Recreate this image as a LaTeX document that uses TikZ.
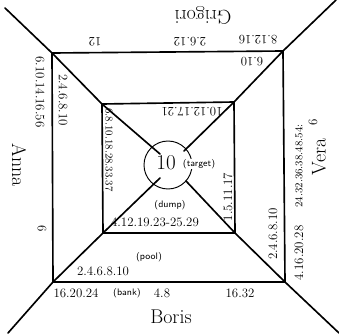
\documentclass[tikz,border=0pt]{standalone}
\usepackage{tikz}
\usetikzlibrary{positioning}

\begin{document}
\begin{tikzpicture}[
  x=0.03cm, y=-0.03cm,
  every node/.style={inner sep=1pt},
  edge/.style={line width=1.4pt, line cap=round, line join=round},
  num/.style={font=\fontsize{11}{13}\selectfont},
  small num/.style={font=\fontsize{9}{11}\selectfont},
  who/.style={font=\fontsize{17}{20}\selectfont},
  tag/.style={font=\sffamily\fontsize{8}{10}\selectfont},
  big/.style={font=\fontsize{18}{20}\selectfont}
]
  \useasboundingbox (0,0) rectangle (339,333);

  % ---- corners: outer square, inner square, far ends ----
  \coordinate (otl) at (52,53);   \coordinate (otr) at (283,51);
  \coordinate (obr) at (285,282); \coordinate (obl) at (53,282);
  \coordinate (itl) at (102,104); \coordinate (itr) at (234,102);
  \coordinate (ibr) at (235,233); \coordinate (ibl) at (103,233);
  \coordinate (etl) at (5,8);     \coordinate (etr) at (336,0);
  \coordinate (ebr) at (339,333); \coordinate (ebl) at (8,333);
  \coordinate (ctl) at (160,154); \coordinate (ctr) at (184,151);
  \coordinate (cbr) at (186,181); \coordinate (cbl) at (160,178);
  \coordinate (c)   at (168,165);

  % ---- squares ----
  \draw[edge] (otl) -- (otr) -- (obr) -- (obl) -- cycle;
  \draw[edge] (itl) -- (itr) -- (ibr) -- (ibl) -- cycle;

  % ---- diagonals into the circle ----
  \draw[edge] (etl) -- (otl) -- (itl) -- (ctl);
  \draw[edge] (etr) -- (otr) -- (itr) -- (ctr);
  \draw[edge] (ebr) -- (obr) -- (ibr) -- (cbr);
  \draw[edge] (ebl) -- (obl) -- (ibl) -- (cbl);
  \draw[line width=0.8pt] (c) circle[radius=0.72cm];

  % ---- centre ----
  \node[big]  (ten)    at (166,163) {10};
  \node[tag, fill=white, inner sep=0.5pt] (target) at (199,164) {(target)};
  \node[tag]  (dump)   at (170,205) {(dump)};
  \node[tag]  (pool)   at (149,257) {(pool)};
  \node[tag]  (bank)   at (127,293) {(bank)};

  % ---- names ----
  \node[who, rotate=180] (grigori) at (203,15)  {Grigori};
  \node[who]             (boris)   at (171,317) {Boris};
  \node[who, rotate=-90] (anna)    at (19,165)  {Anna};
  \node[who, rotate=90]  (vera)    at (319,157) {Vera};

  % ---- top side ----
  \node[num, rotate=180] (t1) at (95,42)   {12};
  \node[num, rotate=180] (t2) at (190,42)  {2.6.12};
  \node[num, rotate=180] (t3) at (258,40)  {8.12.16};
  \node[num, rotate=180] (t4) at (252,62)  {6.10};
  \node[num, rotate=180] (t5) at (192,112) {10.12.17.21};

  % ---- left side ----
  \node[num, rotate=-90] (l1) at (40,92)   {6.10.14.16.56};
  \node[num, rotate=-90] (l2) at (42,229)  {6};
  \node[num, rotate=-90] (l3) at (63,100)  {2.4.6.8.10};
  \node[small num, rotate=-90] (l4) at (109,150) {6.8.10.18.28.33.37};

  % ---- right side ----
  \node[num, rotate=90] (r1) at (228,197) {1.5.11.17};
  \node[num, rotate=90] (r2) at (273,234) {2.4.6.8.10};
  \node[num, rotate=90] (r3) at (299,253) {4.16.20.28};
  \node[small num, rotate=90] (r4) at (299,166) {24.32.36.38.48.54:};
  \node[num, rotate=90] (r5) at (313,122) {6};

  % ---- bottom side ----
  \node[num] (b1) at (155,222) {4.12.19.23-25.29};
  \node[num] (b2) at (103,271) {2.4.6.8.10};
  \node[num] (b3) at (76,293)  {16.20.24};
  \node[num] (b4) at (162,293) {4.8};
  \node[num] (b5) at (240,293) {16.32};
\end{tikzpicture}
\end{document}
